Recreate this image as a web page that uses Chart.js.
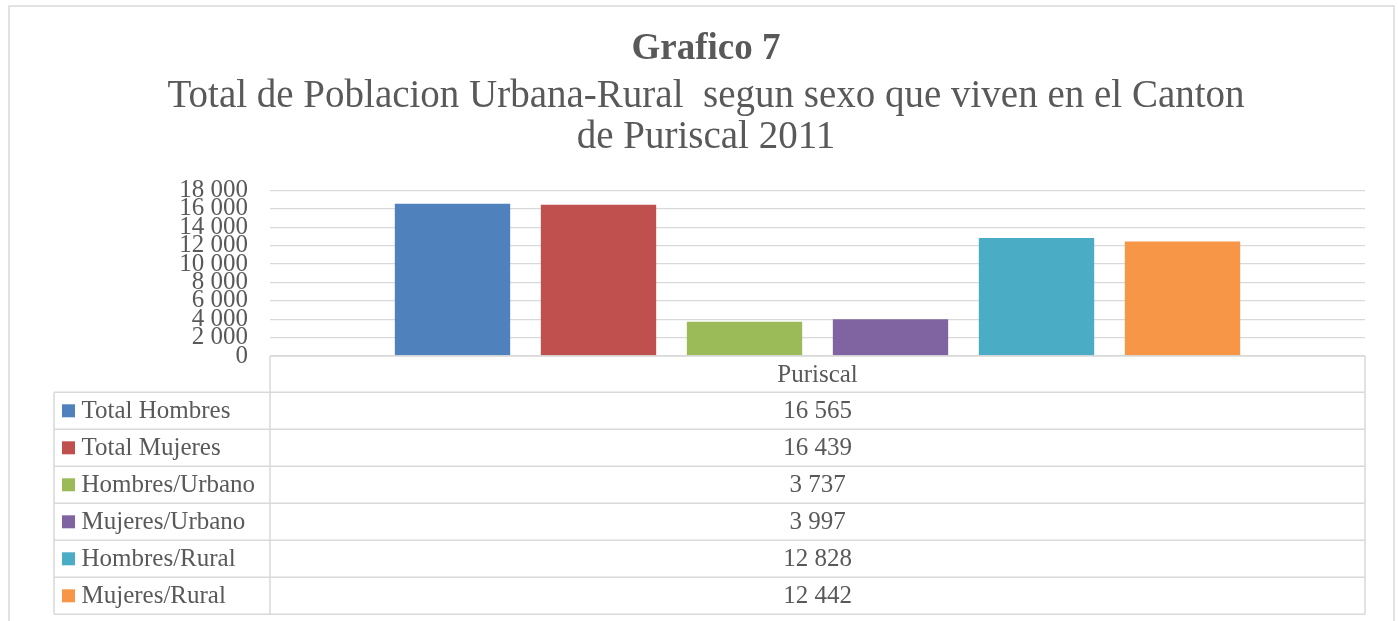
<!DOCTYPE html>
<html>
<head>
<meta charset="utf-8">
<script src="https://cdn.jsdelivr.net/npm/chart.js@4"></script>
<style>
  body { margin: 0; background: #ffffff; }
  #grafico { display: block; }
</style>
</head>
<body>
<canvas id="grafico" width="1398" height="621"></canvas>
<script>
var categories = ['Puriscal'];
var seriesNames = ['Total Hombres', 'Total Mujeres', 'Hombres/Urbano', 'Mujeres/Urbano', 'Hombres/Rural', 'Mujeres/Rural'];
var seriesValues = [16565, 16439, 3737, 3997, 12828, 12442];
var seriesColors = ['#4F81BD', '#C0504D', '#9BBB59', '#8064A2', '#4BACC6', '#F79646'];
var yTicks = [0, 2000, 4000, 6000, 8000, 10000, 12000, 14000, 16000, 18000];

var fontName = '"Liberation Serif", "Times New Roman", serif';
var textColor = '#595959';
var lineColor = '#d9d9d9';

function conEspacios(n) {
    return n.toString().replace(/\B(?=(\d{3})+(?!\d))/g, ' ');
}

var datasets = [];
for (var i = 0; i < seriesNames.length; i++) {
    datasets.push({
        label: seriesNames[i],
        data: [seriesValues[i]],
        backgroundColor: seriesColors[i],
        borderWidth: 0,
        categoryPercentage: 0.8,
        barPercentage: 0.79
    });
}

// marco exterior y tabla de datos debajo del grafico
var tablaPlugin = {
    id: 'tablaDatos',
    beforeDraw: function (chart) {
        var ctx = chart.ctx;
        ctx.save();
        ctx.fillStyle = '#ffffff';
        ctx.fillRect(0, 0, chart.width, chart.height);
        ctx.strokeStyle = lineColor;
        ctx.lineWidth = 1.5;
        ctx.strokeRect(9, 6, 1385, chart.height + 20);
        ctx.restore();
    },
    afterDraw: function (chart) {
        var ctx = chart.ctx;
        var area = chart.chartArea;
        var colLeft = 54;
        var top = area.bottom;
        var firstRow = top + 36.3;
        var rowH = 37;
        var bottom = firstRow + rowH * seriesNames.length;

        ctx.save();
        ctx.strokeStyle = lineColor;
        ctx.lineWidth = 1.5;
        ctx.beginPath();
        ctx.moveTo(area.left, top);
        ctx.lineTo(area.right, top);
        ctx.moveTo(area.left, top);
        ctx.lineTo(area.left, bottom);
        ctx.moveTo(area.right, top);
        ctx.lineTo(area.right, bottom);
        ctx.moveTo(colLeft, firstRow);
        ctx.lineTo(colLeft, bottom);
        for (var r = 0; r <= seriesNames.length; r++) {
            var y = firstRow + r * rowH;
            ctx.moveTo(colLeft, y);
            ctx.lineTo(area.right, y);
        }
        ctx.stroke();

        var mid = (area.left + area.right) / 2;
        ctx.font = '25px ' + fontName;
        ctx.fillStyle = textColor;
        ctx.textBaseline = 'alphabetic';
        ctx.textAlign = 'center';
        ctx.fillText(categories[0], mid, top + 26);

        for (var k = 0; k < seriesNames.length; k++) {
            var rowTop = firstRow + k * rowH;
            ctx.fillStyle = seriesColors[k];
            ctx.fillRect(62, rowTop + 12, 13, 13);
            ctx.fillStyle = textColor;
            ctx.textAlign = 'left';
            ctx.fillText(seriesNames[k], 81.5, rowTop + 26);
            ctx.textAlign = 'center';
            ctx.fillText(conEspacios(seriesValues[k]), mid, rowTop + 26);
        }
        ctx.restore();
    }
};

var ctx = document.getElementById('grafico').getContext('2d');
var myChart = new Chart(ctx, {
    type: 'bar',
    data: {
        labels: categories,
        datasets: datasets
    },
    plugins: [tablaPlugin],
    options: {
        responsive: false,
        animation: false,
        layout: {
            padding: { left: 47, right: 33, top: 0, bottom: 265 }
        },
        plugins: {
            legend: { display: false },
            tooltip: { enabled: false },
            title: {
                display: true,
                text: 'Grafico 7',
                color: textColor,
                font: { family: fontName, size: 37, weight: 'bold', lineHeight: 1 },
                padding: { top: 31, bottom: 0 }
            },
            subtitle: {
                display: true,
                text: ['Total de Poblacion Urbana-Rural  segun sexo que viven en el Canton', 'de Puriscal 2011'],
                color: textColor,
                font: { family: fontName, size: 39, lineHeight: 1.05 },
                padding: { top: 8, bottom: 32.6 }
            }
        },
        scales: {
            x: {
                display: false
            },
            y: {
                min: 0,
                max: 18000,
                afterFit: function (scale) {
                    scale.width = 223;
                },
                afterBuildTicks: function (scale) {
                    scale.ticks = yTicks.map(function (v) { return { value: v }; });
                },
                ticks: {
                    stepSize: 2000,
                    autoSkip: false,
                    padding: 22,
                    color: textColor,
                    font: { family: fontName, size: 25 },
                    callback: function (value) { return conEspacios(value); }
                },
                grid: {
                    color: lineColor,
                    lineWidth: 1.3,
                    drawTicks: false
                },
                border: { display: false }
            }
        }
    }
});
</script>
</body>
</html>
